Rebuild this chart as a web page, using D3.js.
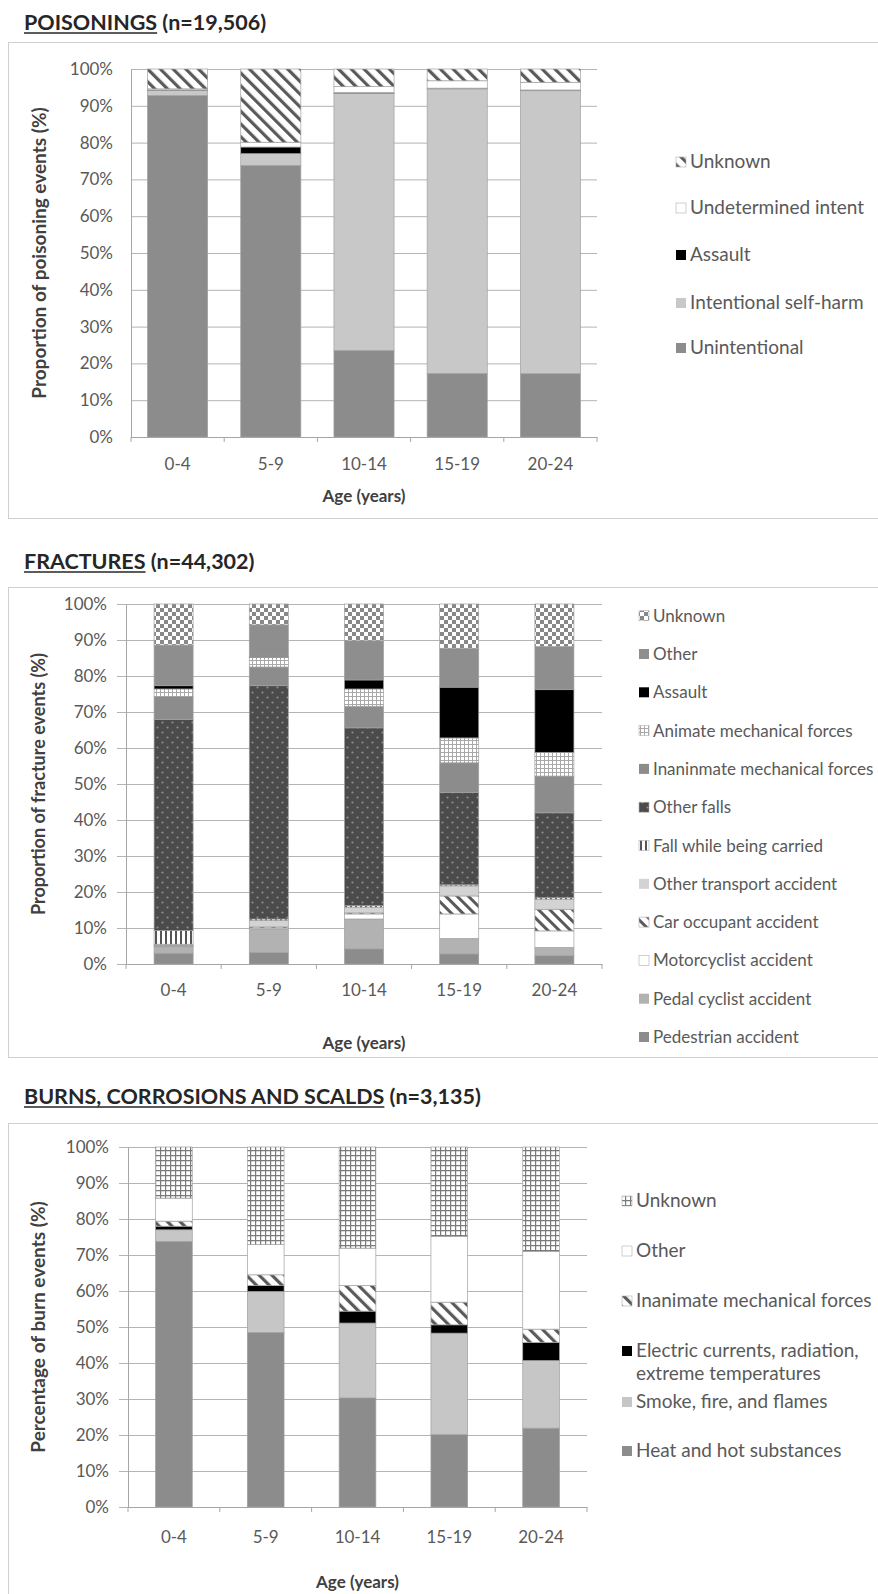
<!DOCTYPE html>
<html lang="en">
<head>
<meta charset="UTF-8">
<title>Injury events by age group</title>
<script src="https://d3js.org/d3.v7.min.js"></script>
<style>
    body { margin: 0; background: #fff; }
    svg text { font-family: Lato, "Open Sans", sans-serif; }
    .tick text { fill: #595959; font-size: 17px; }
    .legend text { fill: #595959; }
    .title { font-size: 21.5px; font-weight: bold; fill: #262626; }
    .axis-title { font-weight: bold; fill: #404040; }
</style>
</head>
<body>
<svg width="878" height="1594"></svg>

<script>
    // age groups (x categories)
    const ages = ["0-4", "5-9", "10-14", "15-19", "20-24"];
    const pctTicks = [0, 10, 20, 30, 40, 50, 60, 70, 80, 90, 100];

    // POISONINGS - series listed bottom to top of stack
    const poisonSeries = ["Unintentional", "Intentional self-harm", "Assault", "Undetermined intent", "Unknown"];
    const poisonValues = [
        [92.8, 73.8, 23.5, 17.3, 17.2],
        [1.4, 3.2, 69.9, 77.3, 76.9],
        [0.1, 1.8, 0.2, 0.2, 0.2],
        [0.3, 1.3, 1.6, 2.0, 2.1],
        [5.4, 19.9, 4.8, 3.2, 3.6]
    ];

    // FRACTURES
    const fractureSeries = ["Pedestrian accident", "Pedal cyclist accident", "Motorcyclist accident",
        "Car occupant accident", "Other transport accident", "Fall while being carried", "Other falls",
        "Inaninmate mechanical forces", "Animate mechanical forces", "Assault", "Other", "Unknown"];
    const fractureValues = [
        [3.0, 3.2, 4.2, 2.8, 2.3],
        [1.8, 6.5, 8.3, 4.3, 2.3],
        [0.2, 0.3, 1.4, 6.8, 4.6],
        [0.2, 0.3, 0.3, 5.0, 6.0],
        [0.3, 1.8, 1.6, 2.8, 2.8],
        [3.8, 0.4, 0.4, 0.3, 0.4],
        [58.6, 64.8, 49.4, 25.6, 23.6],
        [6.4, 5.2, 6.0, 8.3, 10.2],
        [2.1, 2.7, 4.8, 6.9, 6.6],
        [0.9, 0.3, 2.5, 14.1, 17.4],
        [11.3, 8.7, 10.9, 10.8, 12.0],
        [11.4, 5.8, 10.2, 12.3, 11.8]
    ];

    // BURNS
    const burnSeries = ["Heat and hot substances", "Smoke, fire, and flames",
        "Electric currents, radiation, extreme temperatures", "Inanimate mechanical forces", "Other", "Unknown"];
    const burnValues = [
        [73.8, 48.5, 30.3, 20.1, 21.9],
        [3.2, 11.4, 20.8, 28.2, 18.8],
        [1.0, 1.6, 3.3, 2.3, 5.0],
        [1.4, 3.0, 7.1, 6.3, 3.7],
        [6.4, 8.4, 10.4, 18.3, 21.6],
        [14.2, 27.1, 28.1, 24.8, 29.0]
    ];

    // fills for each series (styles, same order as the series)
    const poisonFills = ["#8c8c8c", "#c8c8c8", "#000", "#fff", "url(#stripeWide)"];
    const fractureFills = ["#8c8c8c", "#b2b2b2", "#fff", "url(#stripe)", "#d3d3d3", "url(#vstripe)",
        "url(#dots)", "#8c8c8c", "url(#smallgrid)", "#000", "#8e8e8e", "url(#checker)"];
    const burnFills = ["#8c8c8c", "#c6c6c6", "#000", "url(#stripeWide)", "#fff", "url(#finegrid)"];

    const svg = d3.select("svg");
    const defs = svg.append("defs");

    function stripes(id, size, w) {
        const p = defs.append("pattern").attr("id", id)
            .attr("patternUnits", "userSpaceOnUse")
            .attr("width", size).attr("height", size)
            .attr("patternTransform", "rotate(-45)");
        p.append("rect").attr("width", size).attr("height", size).attr("fill", "#fff");
        p.append("rect").attr("width", w).attr("height", size).attr("fill", "#5a5a5a");
    }
    stripes("stripeWide", 9, 3.2);
    stripes("stripe", 8, 3);

    const vs = defs.append("pattern").attr("id", "vstripe").attr("patternUnits", "userSpaceOnUse")
        .attr("width", 5).attr("height", 5);
    vs.append("rect").attr("width", 5).attr("height", 5).attr("fill", "#fff");
    vs.append("rect").attr("width", 2).attr("height", 5).attr("fill", "#555");

    const dots = defs.append("pattern").attr("id", "dots").attr("patternUnits", "userSpaceOnUse")
        .attr("width", 10).attr("height", 10);
    dots.append("rect").attr("width", 10).attr("height", 10).attr("fill", "#4b4b4b");
    dots.append("circle").attr("cx", 2.5).attr("cy", 2.5).attr("r", 1.1).attr("fill", "#8e8e8e");
    dots.append("circle").attr("cx", 7.5).attr("cy", 7.5).attr("r", 1.1).attr("fill", "#8e8e8e");

    const ck = defs.append("pattern").attr("id", "checker").attr("patternUnits", "userSpaceOnUse")
        .attr("width", 8).attr("height", 8);
    ck.append("rect").attr("width", 8).attr("height", 8).attr("fill", "#fff");
    ck.append("rect").attr("width", 4).attr("height", 4).attr("fill", "#888");
    ck.append("rect").attr("x", 4).attr("y", 4).attr("width", 4).attr("height", 4).attr("fill", "#888");

    const sg = defs.append("pattern").attr("id", "smallgrid").attr("patternUnits", "userSpaceOnUse")
        .attr("width", 4).attr("height", 4);
    sg.append("rect").attr("width", 4).attr("height", 4).attr("fill", "#fff");
    sg.append("path").attr("d", "M0 0.5H4M0.5 0V4").attr("stroke", "#a8a8a8").attr("stroke-width", 1);

    const fg = defs.append("pattern").attr("id", "finegrid").attr("patternUnits", "userSpaceOnUse")
        .attr("width", 5).attr("height", 5);
    fg.append("rect").attr("width", 5).attr("height", 5).attr("fill", "#fff");
    fg.append("path").attr("d", "M0 0.6H5M0.6 0V5").attr("stroke", "#7a7a7a").attr("stroke-width", 1.2);

    const charts = [
        {
            title: "POISONINGS", n: " (n=19,506)", titleY: 30, boxTop: 42, boxH: 476,
            series: poisonSeries, values: poisonValues, fills: poisonFills,
            left: 131, right: 597, top: 69, bottom: 437, pad: 0.355, tickOut: 0, tickPad: 18,
            yTitle: "Proportion of poisoning events (%)", yTitleX: 46, yTitleSize: 19,
            xLabelY: 470, ageY: 502,
            legendX: 676, legendFont: 19, legendY: [348, 303, 255, 208, 162]
        },
        {
            title: "FRACTURES", n: " (n=44,302)", titleY: 569, boxTop: 587, boxH: 470,
            series: fractureSeries, values: fractureValues, fills: fractureFills,
            left: 126, right: 602, top: 604, bottom: 964, pad: 0.59, tickOut: 9, tickPad: 10,
            yTitle: "Proportion of fracture events (%)", yTitleX: 45, yTitleSize: 18,
            xLabelY: 996, ageY: 1049,
            legendX: 639, legendFont: 17, legendY: d3.range(12).map(i => 1037 - i * 38.3)
        },
        {
            title: "BURNS, CORROSIONS AND SCALDS", n: " (n=3,135)", titleY: 1104, boxTop: 1123, boxH: 500,
            series: burnSeries, values: burnValues, fills: burnFills,
            left: 128, right: 587, top: 1147, bottom: 1507, pad: 0.6, tickOut: 9, tickPad: 10,
            yTitle: "Percentage of burn events (%)", yTitleX: 45, yTitleSize: 19,
            xLabelY: 1543, ageY: 1588,
            legendX: 622, legendFont: 19, legendY: [1451, 1402, 1351, 1301, 1251, 1201]
        }
    ];

    charts.forEach(drawChart);

    function drawChart(c) {
        const g = svg.append("g");

        // title, first part underlined
        const t1 = g.append("text").attr("class", "title").attr("x", 24).attr("y", c.titleY).text(c.title);
        const w1 = t1.node().getComputedTextLength();
        g.append("line").attr("x1", 24).attr("x2", 24 + w1)
            .attr("y1", c.titleY + 3).attr("y2", c.titleY + 3)
            .attr("stroke", "#262626").attr("stroke-width", 1.5);
        g.append("text").attr("class", "title").attr("x", 24 + w1).attr("y", c.titleY)
            .style("white-space", "pre").text(c.n);

        // chart frame
        g.append("rect").attr("x", 8.5).attr("y", c.boxTop + 0.5)
            .attr("width", 900).attr("height", c.boxH)
            .attr("fill", "none").attr("stroke", "#d0d0d0");

        const x = d3.scaleBand().domain(ages).range([c.left, c.right])
            .paddingInner(c.pad).paddingOuter(c.pad / 2);
        const y = d3.scaleLinear().domain([0, 100]).range([c.bottom, c.top]);

        // gridlines (extend left as outside tick marks)
        g.append("g").selectAll("line").data(pctTicks).join("line")
            .attr("x1", c.left - c.tickOut).attr("x2", c.right)
            .attr("y1", d => y(d) + 0.5).attr("y2", d => y(d) + 0.5)
            .attr("stroke", "#b4b4b4");

        // stacked bars
        const rows = ages.map((a, i) => {
            const r = { age: a };
            c.series.forEach((s, k) => r[s] = c.values[k][i]);
            return r;
        });
        const stacked = d3.stack().keys(c.series)(rows);
        g.append("g").selectAll("g").data(stacked).join("g")
            .attr("fill", (d, k) => c.fills[k])
            .attr("stroke", "#a0a0a0").attr("stroke-width", 0.7)
            .selectAll("rect").data(d => d).join("rect")
            .attr("x", d => x(d.data.age))
            .attr("width", x.bandwidth())
            .attr("y", d => y(d[1]))
            .attr("height", d => y(d[0]) - y(d[1]));

        // axes
        const ya = g.append("g").attr("transform", `translate(${c.left},0)`)
            .call(d3.axisLeft(y).tickValues(pctTicks).tickFormat(d => d + "%")
                .tickSize(0).tickPadding(c.tickOut + c.tickPad));
        ya.select(".domain").attr("stroke", "#a6a6a6");
        ya.selectAll(".tick text").attr("font-family", null).attr("font-size", null);

        const xa = g.append("g").attr("transform", `translate(0,${c.bottom})`)
            .call(d3.axisBottom(x).tickSize(0).tickPadding(0));
        xa.select(".domain").attr("stroke", "#a6a6a6");
        xa.selectAll(".tick text").attr("font-family", null).attr("font-size", null)
            .attr("dy", null).attr("y", c.xLabelY - c.bottom);
        // small category separator ticks
        g.append("g").selectAll("line").data(d3.range(ages.length + 1)).join("line")
            .attr("x1", i => c.left + i * x.step()).attr("x2", i => c.left + i * x.step())
            .attr("y1", c.bottom).attr("y2", c.bottom + 5)
            .attr("stroke", "#a6a6a6");

        // axis titles
        g.append("text").attr("class", "axis-title").attr("text-anchor", "middle")
            .attr("font-size", 17)
            .attr("x", (c.left + c.right) / 2).attr("y", c.ageY).text("Age (years)");
        g.append("text").attr("class", "axis-title").attr("text-anchor", "middle")
            .attr("font-size", c.yTitleSize)
            .attr("transform", `translate(${c.yTitleX},${(c.top + c.bottom) / 2}) rotate(-90)`)
            .text(c.yTitle);

        // legend
        const lg = g.append("g").attr("class", "legend");
        c.series.forEach((s, k) => {
            const ly = c.legendY[k];
            lg.append("rect").attr("x", c.legendX).attr("y", ly - 5)
                .attr("width", 10).attr("height", 10)
                .attr("fill", c.fills[k])
                .attr("stroke", c.fills[k] === "#fff" || String(c.fills[k]).startsWith("url") ? "#b0b0b0" : "none")
                .attr("stroke-width", 0.6);
            const txt = lg.append("text").attr("x", c.legendX + 14).attr("y", ly + 6)
                .attr("font-size", c.legendFont);
            if (s.startsWith("Electric")) {
                txt.append("tspan").text("Electric currents, radiation,");
                txt.append("tspan").attr("x", c.legendX + 14).attr("dy", 23).text("extreme temperatures");
            } else {
                txt.text(s);
            }
        });
    }
</script>
</body>
</html>
